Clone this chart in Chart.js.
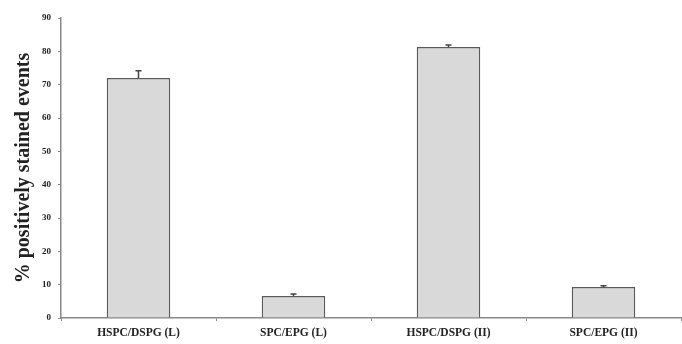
<!DOCTYPE html>
<html>
<head>
<meta charset="utf-8">
<script src="https://cdn.jsdelivr.net/npm/chart.js@4"></script>
<style>
  html, body { margin: 0; padding: 0; background: #fff; }
  #wrap { width: 682px; height: 344px; }
</style>
</head>
<body>
<div id="wrap"><canvas id="myChart" width="682" height="344"></canvas></div>
<script>
// values
const groups = ['HSPC/DSPG (L)', 'SPC/EPG (L)', 'HSPC/DSPG (II)', 'SPC/EPG (II)'];
const stained = [72, 6.6, 81.3, 9.3];
const errUp = [2.2, 0.6, 0.6, 0.4];
const yTicks = [0, 10, 20, 30, 40, 50, 60, 70, 80, 90];

// simple upward error bars
const errorBars = {
  id: 'errorBars',
  afterDatasetsDraw(chart) {
    const ctx = chart.ctx;
    const y = chart.scales.y;
    const meta = chart.getDatasetMeta(0);
    ctx.save();
    ctx.strokeStyle = '#444';
    ctx.lineWidth = 1.5;
    meta.data.forEach((bar, i) => {
      const top = y.getPixelForValue(stained[i] + errUp[i]);
      ctx.beginPath();
      ctx.moveTo(bar.x, bar.y);
      ctx.lineTo(bar.x, top);
      ctx.moveTo(bar.x - 3, top);
      ctx.lineTo(bar.x + 3, top);
      ctx.stroke();
    });
    ctx.restore();
  }
};

const config = {
  type: 'bar',
  data: {
    labels: groups,
    datasets: [{
      data: stained,
      backgroundColor: '#d9d9d9',
      borderColor: '#5a5a5a',
      borderWidth: 1.5,
      barPercentage: 0.82,
      categoryPercentage: 0.5
    }]
  },
  options: {
    responsive: false,
    animation: false,
    layout: { padding: { top: 18, right: 1, left: 0, bottom: 0 } },
    plugins: { legend: { display: false }, tooltip: { enabled: false } },
    scales: {
      x: {
        grid: { display: true, drawOnChartArea: false, offset: true, tickLength: 3, color: '#888' },
        border: { color: '#888', width: 1.5 },
        ticks: { color: '#222', font: { family: 'Liberation Serif', size: 11.5, weight: 'bold' }, padding: 5, maxRotation: 0 },
        afterFit(scale) { scale.height = 26; }
      },
      y: {
        min: 0,
        max: 90,
        afterBuildTicks(scale) { scale.ticks = yTicks.map(v => ({ value: v })); },
        grid: { display: true, drawOnChartArea: false, tickLength: 3, color: '#888' },
        border: { color: '#888', width: 1.5 },
        ticks: { color: '#222', font: { family: 'Liberation Serif', size: 9, weight: 'bold' }, padding: 7 },
        title: {
          display: true,
          text: '% positively stained events',
          color: '#222',
          font: { family: 'Liberation Serif', size: 20, weight: 'bold' },
          padding: { top: 12, bottom: 0 }
        },
        afterFit(scale) { scale.width = 61; }
      }
    }
  },
  plugins: [errorBars]
};

const myChart = new Chart(document.getElementById('myChart'), config);
</script>
</body>
</html>
